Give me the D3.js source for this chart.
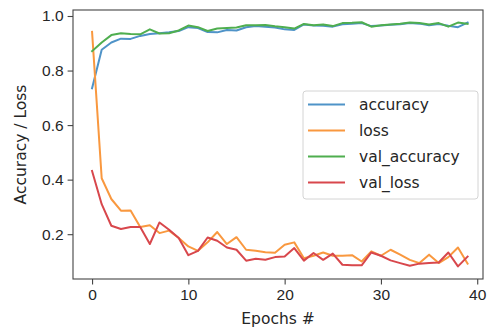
<!DOCTYPE html>
<html>
<head>
<meta charset="utf-8">
<script src="https://cdn.jsdelivr.net/npm/d3@7"></script>
<style>
  body { margin: 0; background: #fff; }
  svg { font-family: "DejaVu Sans", sans-serif; }
  .eje text { font-size: 15.5px; fill: #262626; }
</style>
</head>
<body>
<div id="graf"></div>
<script>
// datos
epochs = d3.range(0, 40)
accuracy = [0.735, 0.876, 0.903, 0.917, 0.916, 0.927, 0.934, 0.937, 0.940, 0.945,
            0.959, 0.956, 0.941, 0.940, 0.949, 0.947, 0.959, 0.963, 0.961, 0.958,
            0.951, 0.949, 0.969, 0.965, 0.964, 0.961, 0.970, 0.972, 0.974, 0.963,
            0.965, 0.968, 0.970, 0.974, 0.972, 0.966, 0.971, 0.964, 0.959, 0.976]
loss = [0.942, 0.405, 0.329, 0.286, 0.287, 0.226, 0.233, 0.204, 0.213, 0.186,
        0.155, 0.139, 0.170, 0.208, 0.164, 0.189, 0.143, 0.139, 0.134, 0.132,
        0.161, 0.170, 0.112, 0.121, 0.133, 0.121, 0.121, 0.123, 0.100, 0.137,
        0.121, 0.143, 0.125, 0.106, 0.094, 0.125, 0.094, 0.116, 0.151, 0.092]
val_accuracy = [0.871, 0.903, 0.930, 0.937, 0.934, 0.933, 0.951, 0.936, 0.937, 0.947,
                0.965, 0.959, 0.945, 0.954, 0.956, 0.958, 0.966, 0.966, 0.967, 0.962,
                0.959, 0.954, 0.971, 0.966, 0.969, 0.963, 0.974, 0.975, 0.977, 0.961,
                0.966, 0.969, 0.972, 0.976, 0.974, 0.969, 0.974, 0.961, 0.976, 0.971]
val_loss = [0.432, 0.310, 0.231, 0.219, 0.226, 0.226, 0.164, 0.243, 0.216, 0.186,
            0.123, 0.139, 0.188, 0.176, 0.151, 0.143, 0.103, 0.110, 0.106, 0.116,
            0.118, 0.149, 0.103, 0.131, 0.106, 0.129, 0.088, 0.086, 0.086, 0.133,
            0.121, 0.104, 0.094, 0.084, 0.092, 0.094, 0.096, 0.133, 0.082, 0.118]
series_names = ['accuracy', 'loss', 'val_accuracy', 'val_loss']
series_values = [accuracy, loss, val_accuracy, val_loss]
x_ticks = [0, 10, 20, 30, 40]
y_ticks = [0.2, 0.4, 0.6, 0.8, 1.0]

// I. Configuración
ancho_total = 489
alto_total = 328
margins = { top: 10, left: 73, right: 6, bottom: 49 }
ancho = ancho_total - margins.left - margins.right
alto = alto_total - margins.top - margins.bottom

svg = d3.select('#graf').append('svg')
        .attr('width', ancho_total)
        .attr('height', alto_total)

g = svg.append('g')
       .attr('transform', `translate(${ margins.left }, ${ margins.top })`)

x = d3.scaleLinear().domain([-1.98, 40.6]).range([0, ancho])
y = d3.scaleLinear().domain([0.0357, 1.022]).range([alto, 0])

// colores algo suavizados como en la imagen
color = d3.scaleOrdinal()
          .domain(series_names)
          .range(['#4f93c8', '#f9983f', '#4fae4f', '#d8474c'])

// ejes
xAxisGroup = g.append('g')
              .attr('class', 'eje')
              .attr('transform', `translate(0, ${ alto })`)
              .call(d3.axisBottom(x).tickValues(x_ticks).tickSize(5.4).tickPadding(5).tickSizeOuter(0))
yAxisGroup = g.append('g')
              .attr('class', 'eje')
              .call(d3.axisLeft(y).tickValues(y_ticks).tickFormat(d3.format('.1f')).tickSize(5.4).tickPadding(4).tickSizeOuter(0))
g.selectAll('.eje .domain').remove()
g.selectAll('.eje line').attr('stroke', '#444').attr('stroke-width', 1.1)

// líneas
linea = d3.line()
          .x((d, i) => x(epochs[i]))
          .y(d => y(d))

series_values.forEach((vals, k) => {
  g.append('path')
   .datum(vals)
   .attr('fill', 'none')
   .attr('stroke', color(series_names[k]))
   .attr('stroke-width', 2)
   .attr('stroke-linejoin', 'round')
   .attr('stroke-linecap', 'square')
   .attr('d', linea)
})

// marco
g.append('rect')
 .attr('width', ancho)
 .attr('height', alto)
 .attr('fill', 'none')
 .attr('stroke', '#444')
 .attr('stroke-width', 1.1)

// etiquetas
svg.append('text')
   .attr('x', margins.left + ancho / 2)
   .attr('y', 323.5)
   .attr('text-anchor', 'middle')
   .style('font-size', '15.5px')
   .style('fill', '#262626')
   .text('Epochs #')

svg.append('text')
   .attr('transform', `translate(26, ${ margins.top + alto / 2 }) rotate(-90)`)
   .attr('text-anchor', 'middle')
   .style('font-size', '15.5px')
   .style('fill', '#262626')
   .text('Accuracy / Loss')

// leyenda
leyenda = svg.append('g').attr('transform', 'translate(303, 91)')
leyenda.append('rect')
       .attr('width', 175)
       .attr('height', 108)
       .attr('rx', 3)
       .attr('fill', 'rgba(255,255,255,0.8)')
       .attr('stroke', '#d4d4d4')
       .attr('stroke-width', 1)

series_names.forEach((nombre, k) => {
  fila = leyenda.append('g').attr('transform', `translate(0, ${ 13.5 + k * 26 })`)
  fila.append('line')
      .attr('x1', 5).attr('x2', 42)
      .attr('stroke', color(nombre))
      .attr('stroke-width', 2)
  fila.append('text')
      .attr('x', 56)
      .attr('dy', '0.35em')
      .style('font-size', '15.5px')
      .style('fill', '#262626')
      .text(nombre)
})
</script>
</body>
</html>
